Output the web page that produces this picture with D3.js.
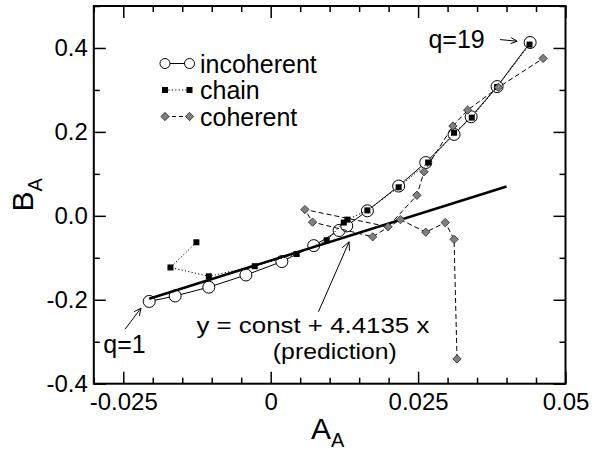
<!DOCTYPE html>
<html>
<head>
<meta charset="utf-8">
<script src="https://cdn.jsdelivr.net/npm/d3@7"></script>
<style>
  html, body { margin: 0; padding: 0; background: #fff; }
  svg { display: block; font-family: "Liberation Sans", Arial, Helvetica, sans-serif; }
</style>
</head>
<body>
<svg id="chart" width="600" height="452"></svg>
<script>
// Incoherent case: open circles joined by a solid line
const incoherentA = [-0.0206, -0.0162, -0.0105, -0.0042, 0.0019, 0.0073, 0.0116, 0.0129, 0.0164, 0.0217, 0.0263, 0.0311, 0.0340, 0.0384, 0.0440];
const incoherentB = [-0.204, -0.191, -0.170, -0.141, -0.109, -0.071, -0.035, -0.024, 0.012, 0.071, 0.127, 0.194, 0.236, 0.308, 0.413];

// Chain case: filled squares joined by a dotted line
const chainA = [-0.0126, -0.0170, -0.0105, -0.0027, 0.0044, 0.0095, 0.0124, 0.0130, 0.0164, 0.0217, 0.0267, 0.0311, 0.0341, 0.0384, 0.0439];
const chainB = [-0.063, -0.123, -0.144, -0.120, -0.091, -0.058, -0.016, -0.009, 0.013, 0.068, 0.127, 0.198, 0.234, 0.307, 0.408];

// Coherent case: grey diamonds joined by a dashed line
const coherentA = [0.0316, 0.0311, 0.0296, 0.0263, 0.0220, 0.0173, 0.0071, 0.0058, 0.0199, 0.0248, 0.0260, 0.0309, 0.0334, 0.0386, 0.0462];
const coherentB = [-0.341, -0.056, -0.016, -0.039, -0.009, -0.050, -0.015, 0.015, -0.026, 0.049, 0.105, 0.214, 0.252, 0.306, 0.375];

// Linear prediction y = const + 4.4135 x
const predSlope = 4.4135;
const predConst = -0.1065;
const predRangeA = [-0.0206, 0.0400];

// Axis ticks
const xMajorTicks = [-0.025, 0, 0.025, 0.05];
const xTickLabels = ["-0.025", "0", "0.025", "0.05"];
const xMinorTicks = [-0.03, -0.02, -0.015, -0.01, -0.005, 0.005, 0.01, 0.015, 0.02, 0.03, 0.035, 0.04, 0.045];
const yMajorTicks = [-0.4, -0.2, 0, 0.2, 0.4];
const yTickLabels = ["-0.4", "-0.2", "0.0", "0.2", "0.4"];
const yMinorTicks = [-0.3, -0.1, 0.1, 0.3, 0.5];

const legendNames = ["incoherent", "chain", "coherent"];

const svg = d3.select("#chart");
const plotLeft = 93.8, plotRight = 565.5, plotTop = 6, plotBottom = 383.7;

const x = d3.scaleLinear().domain([-0.03, 0.05]).range([plotLeft, plotRight]);
const y = d3.scaleLinear().domain([-0.4, 0.5]).range([plotBottom, plotTop]);

svg.append("rect").attr("width", 600).attr("height", 452).attr("fill", "#fff");

// ---- axes (ticks point inward on all four sides) ----
function styleAxis(g) {
  g.select(".domain").remove();
  g.selectAll(".tick line").attr("stroke", "#000").attr("stroke-width", 1.5);
  g.selectAll(".tick text").attr("fill", "#000").attr("font-size", 24)
    .attr("font-family", "Liberation Sans, Arial, sans-serif");
}
const xLabelOf = d => xTickLabels[xMajorTicks.indexOf(d)];
const yLabelOf = d => yTickLabels[yMajorTicks.indexOf(d)];

svg.append("g").attr("transform", `translate(0,${plotBottom})`)
  .call(d3.axisBottom(x).tickValues(xMajorTicks).tickSize(-12).tickPadding(9).tickFormat(xLabelOf))
  .call(styleAxis);
svg.append("g").attr("transform", `translate(0,${plotBottom})`)
  .call(d3.axisBottom(x).tickValues(xMinorTicks).tickSize(-6).tickFormat(""))
  .call(styleAxis);
svg.append("g").attr("transform", `translate(0,${plotTop})`)
  .call(d3.axisTop(x).tickValues(xMajorTicks).tickSize(-12).tickFormat(""))
  .call(styleAxis);
svg.append("g").attr("transform", `translate(0,${plotTop})`)
  .call(d3.axisTop(x).tickValues(xMinorTicks).tickSize(-6).tickFormat(""))
  .call(styleAxis);

svg.append("g").attr("transform", `translate(${plotLeft},0)`)
  .call(d3.axisLeft(y).tickValues(yMajorTicks).tickSize(-12).tickPadding(6).tickFormat(yLabelOf))
  .call(styleAxis);
svg.append("g").attr("transform", `translate(${plotLeft},0)`)
  .call(d3.axisLeft(y).tickValues(yMinorTicks).tickSize(-6).tickFormat(""))
  .call(styleAxis);
svg.append("g").attr("transform", `translate(${plotRight},0)`)
  .call(d3.axisRight(y).tickValues(yMajorTicks).tickSize(-12).tickFormat(""))
  .call(styleAxis);
svg.append("g").attr("transform", `translate(${plotRight},0)`)
  .call(d3.axisRight(y).tickValues(yMinorTicks).tickSize(-6).tickFormat(""))
  .call(styleAxis);

svg.append("rect")
  .attr("x", plotLeft).attr("y", plotTop)
  .attr("width", plotRight - plotLeft).attr("height", plotBottom - plotTop)
  .attr("fill", "none").attr("stroke", "#000").attr("stroke-width", 2);

// ---- axis titles ----
const xTitle = svg.append("text").attr("x", (plotLeft + plotRight) / 2 - 2).attr("y", 439)
  .attr("text-anchor", "middle").attr("font-size", 30).attr("fill", "#000");
xTitle.append("tspan").text("A");
xTitle.append("tspan").attr("font-size", 20).attr("dy", 8).text("A");

const yTitle = svg.append("text")
  .attr("transform", `translate(33,${(plotTop + plotBottom) / 2}) rotate(-90)`)
  .attr("text-anchor", "middle").attr("font-size", 30).attr("fill", "#000");
yTitle.append("tspan").text("B");
yTitle.append("tspan").attr("font-size", 20).attr("dy", 9).text("A");

// ---- series ----
const line = d3.line().x(d => x(d[0])).y(d => y(d[1]));
const zipAB = (a, b) => a.map((v, i) => [v, b[i]]);

const incoherent = zipAB(incoherentA, incoherentB);
const chain = zipAB(chainA, chainB);
const coherent = zipAB(coherentA, coherentB);

const plot = svg.append("g");

// incoherent
plot.append("path").datum(incoherent).attr("d", line)
  .attr("fill", "none").attr("stroke", "#000").attr("stroke-width", 1);
plot.selectAll("circle.inc").data(incoherent).join("circle").attr("class", "inc")
  .attr("cx", d => x(d[0])).attr("cy", d => y(d[1])).attr("r", 6)
  .attr("fill", "#fff").attr("stroke", "#000").attr("stroke-width", 1);

// prediction line
const predLine = predRangeA.map(a => [a, predConst + predSlope * a]);
plot.append("path").datum(predLine).attr("d", line)
  .attr("fill", "none").attr("stroke", "#000").attr("stroke-width", 2.5);

// chain
plot.append("path").datum(chain).attr("d", line)
  .attr("fill", "none").attr("stroke", "#000").attr("stroke-width", 1)
  .attr("stroke-dasharray", "1.2,2.2");
plot.selectAll("rect.chain").data(chain).join("rect").attr("class", "chain")
  .attr("x", d => x(d[0]) - 3).attr("y", d => y(d[1]) - 3)
  .attr("width", 6).attr("height", 6).attr("fill", "#000");

// coherent
const diamond = d3.symbol().type(d3.symbolDiamond2).size(44);
plot.append("path").datum(coherent).attr("d", line)
  .attr("fill", "none").attr("stroke", "#000").attr("stroke-width", 1)
  .attr("stroke-dasharray", "5,3");
plot.selectAll("path.coh").data(coherent).join("path").attr("class", "coh")
  .attr("transform", d => `translate(${x(d[0])},${y(d[1])})`)
  .attr("d", diamond).attr("fill", "#808080").attr("stroke", "#222").attr("stroke-width", 0.8);

// ---- legend ----
const legend = svg.append("g");
const legRowY = [63.5, 90, 116.5];
const legX0 = 165, legX1 = 189.5;
// incoherent sample
legend.append("line").attr("x1", legX0).attr("x2", legX1).attr("y1", legRowY[0]).attr("y2", legRowY[0])
  .attr("stroke", "#000").attr("stroke-width", 1);
[legX0, legX1].forEach(cx => legend.append("circle").attr("cx", cx).attr("cy", legRowY[0]).attr("r", 5)
  .attr("fill", "#fff").attr("stroke", "#000"));
// chain sample
legend.append("line").attr("x1", legX0).attr("x2", legX1).attr("y1", legRowY[1]).attr("y2", legRowY[1])
  .attr("stroke", "#000").attr("stroke-width", 1).attr("stroke-dasharray", "1.2,2.2");
[legX0, legX1].forEach(cx => legend.append("rect").attr("x", cx - 3).attr("y", legRowY[1] - 3)
  .attr("width", 6).attr("height", 6).attr("fill", "#000"));
// coherent sample
legend.append("line").attr("x1", legX0).attr("x2", legX1).attr("y1", legRowY[2]).attr("y2", legRowY[2])
  .attr("stroke", "#000").attr("stroke-width", 1).attr("stroke-dasharray", "4,3");
[legX0, legX1].forEach(cx => legend.append("path").attr("transform", `translate(${cx},${legRowY[2]})`)
  .attr("d", diamond).attr("fill", "#808080").attr("stroke", "#222").attr("stroke-width", 0.8));
legendNames.forEach((name, i) => legend.append("text")
  .attr("x", 200).attr("y", legRowY[i] + 9).attr("font-size", 25).attr("fill", "#000").text(name));

// ---- annotations ----
function arrow(a0, b0, a1, b1, head) {
  const x0 = x(a0), y0 = y(b0), x1 = x(a1), y1 = y(b1);
  const ang = Math.atan2(y1 - y0, x1 - x0);
  svg.append("line").attr("x1", x0).attr("y1", y0).attr("x2", x1).attr("y2", y1)
    .attr("stroke", "#000").attr("stroke-width", 1);
  [0.45, -0.45].forEach(da => svg.append("line")
    .attr("x1", x1).attr("y1", y1)
    .attr("x2", x1 - head * Math.cos(ang + da)).attr("y2", y1 - head * Math.sin(ang + da))
    .attr("stroke", "#000").attr("stroke-width", 1));
}

svg.append("text").attr("x", x(0.0363)).attr("y", y(0.4)).attr("text-anchor", "end")
  .attr("font-size", 25).attr("fill", "#000").text("q=19");
arrow(0.0389, 0.420, 0.0418, 0.416, 7);

svg.append("text").attr("x", x(-0.0248)).attr("y", y(-0.326)).attr("text-anchor", "middle")
  .attr("font-size", 25).attr("fill", "#000").text("q=1");
arrow(-0.0247, -0.270, -0.0220, -0.220, 8);

// two-line caption for the prediction line
svg.append("text").attr("x", x(-0.0126)).attr("y", y(-0.2795))
  .attr("font-size", 22).attr("textLength", 233).attr("lengthAdjust", "spacingAndGlyphs")
  .attr("fill", "#000").text("y = const + 4.4135 x");
svg.append("text").attr("x", x(0.0214)).attr("y", y(-0.340)).attr("text-anchor", "end")
  .attr("font-size", 22).attr("textLength", 124).attr("lengthAdjust", "spacingAndGlyphs")
  .attr("fill", "#000").text("(prediction)");
arrow(0.0081, -0.2286, 0.0133, -0.0619, 9);
</script>
</body>
</html>
